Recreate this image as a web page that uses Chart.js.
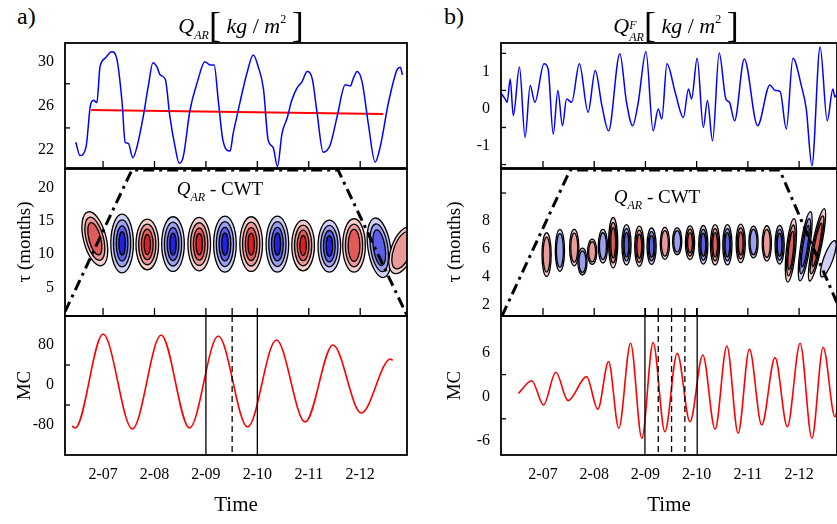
<!DOCTYPE html>
<html>
<head>
<meta charset="utf-8">
<script src="https://cdn.jsdelivr.net/npm/chart.js@4.4.1/dist/chart.umd.min.js"></script>
<style>
body { margin: 0; background: #fff; width: 837px; height: 524px; position: relative; overflow: hidden; font-family: "Liberation Serif", serif; }
canvas { position: absolute; }
.lbl { position: absolute; white-space: nowrap; color: #000; transform: translate(-50%, -50%); z-index: 2; line-height: 1; }
.tag { position: absolute; font-size: 24px; z-index: 2; }
.br { font-size: 36px; font-weight: 100; vertical-align: -4px; }
.s { font-size: 12px; font-style: italic; vertical-align: -6px; }
.p { font-size: 12px; vertical-align: 10px; }
.ss { display: inline-block; font-size: 12px; font-style: italic; line-height: 12px; vertical-align: -8px; }
</style>
</head>
<body>
<canvas id="aTop" width="410" height="133" style="left:0;top:40px"></canvas>
<canvas id="aMid" width="410" height="155" style="left:0;top:165px"></canvas>
<canvas id="aBot" width="410" height="211" style="left:0;top:313px"></canvas>
<canvas id="bTop" width="401" height="133" style="left:436px;top:40px"></canvas>
<canvas id="bMid" width="401" height="155" style="left:436px;top:165px"></canvas>
<canvas id="bBot" width="401" height="211" style="left:436px;top:313px"></canvas>

<div class="tag" style="left:17px;top:3px">a)</div>
<div class="tag" style="left:444px;top:3px">b)</div>
<div class="lbl" style="left:241px;top:25px;font-size:22px"><i>Q</i><span class="s">AR</span><span class="br">[</span> <i>kg</i> / <i>m</i><span class="p">2</span> <span class="br">]</span></div>
<div class="lbl" style="left:676px;top:25px;font-size:22px"><i>Q</i><span class="ss">F<br>AR</span><span class="br">[</span> <i>kg</i> / <i>m</i><span class="p">2</span> <span class="br">]</span></div>
<div class="lbl" style="left:220px;top:191px;font-size:19px"><i>Q</i><span class="s">AR</span> - CWT</div>
<div class="lbl" style="left:657px;top:199px;font-size:19px"><i>Q</i><span class="s">AR</span> - CWT</div>

<script>
// ticks shared by both columns
const tickYears = [2007, 2008, 2009, 2010, 2011, 2012];
const tickLabels = ['2-07', '2-08', '2-09', '2-10', '2-11', '2-12'];

// ---- a) Q_AR ----
const qarYears = [
  2006.47, 2006.55, 2006.67, 2006.75, 2006.81, 2006.88,
  2006.94, 2007.04, 2007.17, 2007.27, 2007.37, 2007.43,
  2007.49, 2007.58, 2007.66, 2007.78, 2007.88, 2007.97,
  2008.05, 2008.11, 2008.21, 2008.30, 2008.40, 2008.48,
  2008.56, 2008.69, 2008.83, 2008.98, 2009.08, 2009.16,
  2009.24, 2009.33, 2009.47, 2009.53, 2009.61, 2009.72,
  2009.80, 2009.92, 2010.02, 2010.12, 2010.21, 2010.31,
  2010.39, 2010.48, 2010.58, 2010.67, 2010.77, 2010.87,
  2010.97, 2011.07, 2011.16, 2011.28, 2011.42, 2011.55,
  2011.71, 2011.81, 2011.86, 2011.94, 2012.04, 2012.16,
  2012.29, 2012.39, 2012.55, 2012.72, 2012.78, 2012.82];
const qarValues = [
  22.7, 21.5, 22.3, 25.9, 26.5, 26.3,
  29.5, 30.3, 30.9, 30.2, 26.3, 22.7,
  22.6, 21.3, 22.3, 25.0, 27.8, 29.9,
  29.5, 28.8, 28.4, 25.0, 22.3, 20.8,
  21.4, 25.6, 28.1, 30.0, 29.7, 29.7,
  26.5, 22.9, 21.9, 23.5, 25.2, 27.5,
  29.0, 30.6, 29.5, 27.5, 22.9, 22.2,
  20.5, 23.5, 24.9, 26.5, 27.6, 28.2,
  29.1, 28.4, 25.4, 21.8, 22.5, 25.0,
  27.9, 27.8, 28.4, 29.1, 28.1, 24.3,
  20.9, 22.3, 26.3, 29.3, 29.5, 28.8];
const trendYears = [2006.77, 2012.45];
const trendValues = [25.62, 25.27];

// a) CWT blobs (centre year, centre period, half height in months, sign, contour levels, tilt)
const cwtYearsA = [2006.84, 2007.37, 2007.86, 2008.36, 2008.87, 2009.37, 2009.88, 2010.39, 2010.89, 2011.40, 2011.88, 2012.37, 2012.82];
const cwtTauA   = [12.3, 11.6, 11.45, 11.5, 11.5, 11.5, 11.5, 11.5, 11.3, 11.2, 11.3, 10.95, 10.6];
const cwtHalfA  = [4.15, 4.4, 3.8, 4.1, 4.0, 4.2, 4.1, 4.2, 3.8, 3.9, 4.0, 4.5, 3.7];
const cwtSignA  = [1, -1, 1, -1, 1, -1, 1, -1, 1, -1, 1, -1, 1];
const cwtLevelsA = [3, 4, 4, 4, 4, 4, 4, 4, 4, 4, 3, 3, 2];
const cwtTiltA  = [-0.25, 0, 0, 0, 0, 0, 0, 0, 0, 0, 0, -0.15, 0.35];
const coneYearsA = [2006.26, 2007.56, 2011.57, 2012.91];
const coneTauA   = [1.37, 22.6, 22.6, 0.8];

// a) MC
const mcYearsA  = [2006.40, 2006.46, 2007.00, 2007.57, 2008.13, 2008.68, 2009.24, 2009.81, 2010.37, 2010.93, 2011.47, 2012.02, 2012.59, 2012.63];
const mcValuesA = [-82, -86, 102, -88, 100, -86, 98, -84, 90, -74, 80, -56, 52, 49];
const solidMarksA = [2009.0, 2010.0];
const dashedMarksA = [2009.51];

// ---- b) Q^F_AR ----
const qfYears = [
  2006.19, 2006.26, 2006.30, 2006.36, 2006.42, 2006.54, 2006.65, 2006.75, 2006.84, 2007.02,
  2007.10, 2007.20, 2007.29, 2007.38, 2007.46, 2007.56, 2007.71, 2007.88, 2008.02, 2008.15,
  2008.28, 2008.50, 2008.63, 2008.75, 2008.86, 2009.01, 2009.15, 2009.25, 2009.32, 2009.42,
  2009.58, 2009.74, 2009.84, 2009.90, 2010.01, 2010.13, 2010.21, 2010.31, 2010.44, 2010.57,
  2010.64, 2010.74, 2010.93, 2011.19, 2011.43, 2011.53, 2011.63, 2011.75, 2011.88, 2012.05,
  2012.14, 2012.25, 2012.41, 2012.55, 2012.66, 2012.70, 2012.74];
const qfValues = [
  0.41, 0.27, 0.18, 0.81, -0.18, 1.13, -0.77, 0.63, 0.18, 1.22,
  1.08, -0.68, 0.50, -0.45, 0.27, 0.18, 1.22, -0.09, 1.04, 0.09,
  -0.59, 1.49, 0.18, -0.45, 0.18, 1.55, -0.59, 0.0, -0.27, 1.22,
  0.45, -0.23, 0.54, 0.27, 1.37, -0.50, 0.23, -0.86, 1.51, 0.27,
  0.18, -0.32, 1.35, -0.45, 0.65, 0.50, 0.47, -0.54, 1.37, 0.59,
  0.0, -1.53, 1.67, -0.32, 0.54, 0.32, 0.41];

// b) CWT blobs
const cwtYearsB = [2007.07, 2007.33, 2007.61, 2007.77, 2007.96, 2008.17, 2008.37, 2008.63, 2008.88, 2009.12, 2009.38, 2009.62,
                   2009.87, 2010.13, 2010.36, 2010.60, 2010.86, 2011.11, 2011.37, 2011.62, 2011.84, 2012.12, 2012.35, 2012.57];
const cwtTauB   = [5.6, 5.9, 6.1, 5.1, 5.8, 6.2, 6.45, 6.3, 6.2, 6.2, 6.4, 6.55, 6.45, 6.3, 6.3, 6.3, 6.4, 6.5, 6.4, 6.3, 5.9, 6.2, 6.3, 5.3];
const cwtHalfB  = [1.56, 1.5, 1.3, 0.96, 0.9, 1.2, 1.8, 1.44, 1.44, 1.3, 1.14, 0.96, 1.2, 1.38, 1.44, 1.44, 1.38, 1.14, 1.26, 1.38, 2.28, 2.5, 2.64, 1.38];
const cwtSignB  = [1, -1, 1, -1, 1, -1, 1, -1, 1, -1, 1, -1, 1, -1, 1, -1, 1, -1, 1, -1, 1, -1, 1, -1];
const cwtLevelsB = [2, 2, 2, 2, 2, 2, 3, 3, 3, 3, 2, 2, 3, 3, 3, 3, 3, 2, 2, 3, 3, 3, 3, 1];
const cwtTiltB  = [0, 0, 0, 0, 0, 0, 0, 0, 0, 0, 0, 0, 0, 0, 0, 0, 0, 0, 0, 0, 0.1, 0.15, 0.2, 0.35];
const coneYearsB = [2006.20, 2007.53, 2011.62, 2012.74];
const coneTauB   = [1.22, 11.65, 11.65, 2.15];

// b) MC
const mcYearsB  = [2006.52, 2006.78, 2007.01, 2007.25, 2007.49, 2007.85, 2008.07, 2008.28, 2008.48, 2008.71, 2008.93, 2009.15, 2009.38, 2009.62,
                   2009.87, 2010.12, 2010.36, 2010.59, 2010.81, 2011.03, 2011.27, 2011.53, 2011.77, 2012.02, 2012.25, 2012.47, 2012.70, 2012.80];
const mcValuesB = [0.46, 2.17, -1.13, 3.32, -0.54, 2.72, -1.71, 4.76, -4.29, 7.26, -5.65, 7.34, -4.76, 5.90,
                   -3.40, 5.67, -4.43, 6.89, -4.97, 6.48, -3.85, 5.30, -4.08, 7.26, -5.65, 6.71, -2.72, 1.0];
const solidMarksB = [2008.99, 2010.01];
const dashedMarksB = [2009.25, 2009.51, 2009.77];

Chart.defaults.font.family = 'Liberation Serif';
Chart.defaults.color = '#000';

const RED = ['#f5cfcf', '#eb9a9a', '#e35a5a', '#e01f1f'];
const BLUE = ['#cfd0f5', '#9c9eee', '#5c60e6', '#1f22e0'];

const xy = (xs, ys) => xs.map((x, i) => ({ x, y: ys[i] }));

// contour blobs of the wavelet transform
const cwtPlugin = {
  id: 'cwt',
  beforeDatasetsDraw(chart, args, o) {
    if (!o.years) return;
    const { ctx, chartArea: a, scales: { x, y } } = chart;
    ctx.save();
    ctx.beginPath();
    ctx.rect(a.left, a.top, a.right - a.left, a.bottom - a.top);
    ctx.clip();
    o.years.forEach((yr, i) => {
      const cx = x.getPixelForValue(yr), cy = y.getPixelForValue(o.tau[i]);
      const rx = x.getPixelForValue(yr + o.halfWidth) - cx;
      const ry = cy - y.getPixelForValue(o.tau[i] + o.half[i]);
      const shades = o.sign[i] > 0 ? RED : BLUE;
      for (let k = 0; k < o.levels[i]; k++) {
        ctx.beginPath();
        ctx.ellipse(cx, cy, rx * (1 - k * 0.24), ry * (1 - k * 0.2), o.tilt[i], 0, Math.PI * 2);
        ctx.fillStyle = shades[k];
        ctx.fill();
        ctx.lineWidth = 1.3;
        ctx.strokeStyle = '#000';
        ctx.stroke();
      }
    });
    ctx.restore();
  }
};

// box, inward ticks and vertical marker lines
const framePlugin = {
  id: 'frame',
  afterDatasetsDraw(chart, args, o) {
    const { ctx, chartArea: a, scales: { x, y } } = chart;
    const seg = (x1, y1, x2, y2) => { ctx.beginPath(); ctx.moveTo(x1, y1); ctx.lineTo(x2, y2); ctx.stroke(); };
    ctx.save();
    ctx.strokeStyle = '#000';
    ctx.lineWidth = 1.3;
    (o.solid || []).forEach(v => { const px = x.getPixelForValue(v); seg(px, a.top, px, a.bottom); });
    ctx.setLineDash([6, 4]);
    (o.dashed || []).forEach(v => { const px = x.getPixelForValue(v); seg(px, a.top, px, a.bottom); });
    ctx.setLineDash([]);
    (o.yTicks || []).forEach(v => { const py = y.getPixelForValue(v); seg(a.left, py, a.left + 5, py); });
    (o.xTicks || []).forEach(v => { const px = x.getPixelForValue(v); seg(px, a.bottom, px, a.bottom - 8); });
    ctx.lineWidth = 1.8;
    ctx.strokeRect(a.left, a.top, a.right - a.left, a.bottom - a.top);
    ctx.restore();
  }
};

function yAxis(min, max, labels, title, titlePad) {
  return {
    type: 'linear', min, max,
    afterFit: s => { s.width = 65; s.paddingTop = 0; s.paddingBottom = 0; },
    afterBuildTicks: s => { s.ticks = labels.map(v => ({ value: v })); },
    grid: { display: false, drawTicks: false },
    border: { display: false },
    ticks: { font: { size: 16 }, padding: 11 },
    title: title
      ? { display: true, text: title, font: { size: 19 }, padding: { top: titlePad, bottom: 0 } }
      : { display: false }
  };
}

function xAxis(min, max, bottom) {
  if (!bottom) return { type: 'linear', min, max, display: false };
  return {
    type: 'linear', min, max,
    afterFit: s => { s.height = 69; s.paddingLeft = 0; s.paddingRight = 0; },
    afterBuildTicks: s => { s.ticks = tickYears.map(v => ({ value: v })); },
    grid: { display: false, drawTicks: false },
    border: { display: false },
    ticks: { font: { size: 16 }, padding: 10, maxRotation: 0, autoSkip: false, callback: (v, i) => tickLabels[i] },
    title: { display: true, text: 'Time', font: { size: 21 }, padding: { top: 0, bottom: 6 } }
  };
}

function makeChart(id, datasets, x, y, padding, extra) {
  return new Chart(document.getElementById(id), {
    type: 'line',
    data: { datasets },
    options: {
      responsive: false,
      animation: false,
      devicePixelRatio: 1,
      layout: { padding, autoPadding: false },
      elements: { point: { radius: 0 } },
      scales: { x, y },
      plugins: Object.assign({ legend: { display: false }, tooltip: { enabled: false } }, extra)
    },
    plugins: [cwtPlugin, framePlugin]
  });
}

const curve = (data, color, width) => ({
  data, borderColor: color, borderWidth: width, cubicInterpolationMode: 'monotone',
  clip: { left: 0, top: 3, right: 0, bottom: 4 }
});
const cone = data => ({
  data, borderColor: '#000', borderWidth: 3, borderDash: [11, 5, 3, 5],
  clip: { left: 0, top: 3, right: 0, bottom: 0 }
});

const xA = [2006.26, 2012.91], xB = [2006.18, 2012.74];
const padA = { top: 3, bottom: 4, left: 0, right: 3 }, padB = { top: 3, bottom: 4, left: 0, right: 0 };

// a) column
makeChart('aTop', [
  curve(xy(qarYears, qarValues), '#0000ff', 1.5),
  curve(xy(trendYears, trendValues), '#ff0000', 2)
], xAxis(xA[0], xA[1]), yAxis(20.28, 31.69, [22, 26, 30]), padA,
  { frame: { yTicks: [24, 28], xTicks: tickYears } });

makeChart('aMid', [cone(xy(coneYearsA, coneTauA))],
  xAxis(xA[0], xA[1]), yAxis(0.73, 22.9, [5, 10, 15, 20], '\u03c4 (months)', 13.6), padA,
  { frame: { xTicks: tickYears.concat(dashedMarksA) },
    cwt: { years: cwtYearsA, tau: cwtTauA, half: cwtHalfA, sign: cwtSignA, levels: cwtLevelsA, tilt: cwtTiltA, halfWidth: 0.22 } });

makeChart('aBot', [curve(xy(mcYearsA, mcValuesA), '#ff0000', 1.6)],
  xAxis(xA[0], xA[1], true), yAxis(-140, 138, [-80, 0, 80], 'MC', 13.6), { top: 3, bottom: 0, left: 0, right: 3 },
  { frame: { yTicks: [-40, 40], solid: solidMarksA, dashed: dashedMarksA } });

// b) column
makeChart('bTop', [curve(xy(qfYears, qfValues), '#0000ff', 1.5)],
  xAxis(xB[0], xB[1]), yAxis(-1.62, 1.78, [-1, 0, 1]), padB,
  { frame: { yTicks: [-1.5, -0.5, 0.5, 1.5], xTicks: tickYears } });

makeChart('bMid', [cone(xy(coneYearsB, coneTauB))],
  xAxis(xB[0], xB[1]), yAxis(1.21, 11.79, [2, 4, 6, 8], '\u03c4 (months)', 7.6), padB,
  { frame: { yTicks: [10], xTicks: tickYears.concat(solidMarksB, dashedMarksB) },
    cwt: { years: cwtYearsB, tau: cwtTauB, half: cwtHalfB, sign: cwtSignB, levels: cwtLevelsB, tilt: cwtTiltB, halfWidth: 0.09 } });

makeChart('bBot', [curve(xy(mcYearsB, mcValuesB), '#ff0000', 1.6)],
  xAxis(xB[0], xB[1], true), yAxis(-7.92, 10.96, [-6, 0, 6], 'MC', 7.6), { top: 3, bottom: 0, left: 0, right: 0 },
  { frame: { yTicks: [-3, 3], solid: solidMarksB, dashed: dashedMarksB } });
</script>
</body>
</html>
